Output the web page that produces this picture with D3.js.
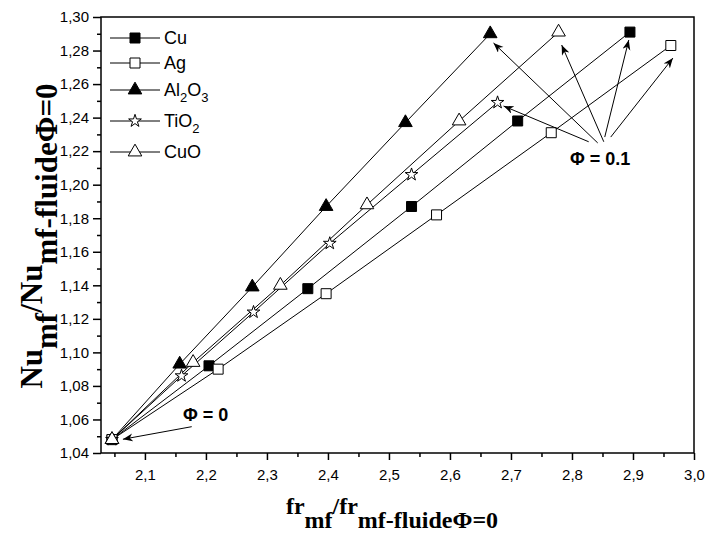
<!DOCTYPE html>
<html><head><meta charset="utf-8">
<script src="https://cdn.jsdelivr.net/npm/d3@7"></script>
<style>body{margin:0;background:#fff}svg{display:block}</style>
</head><body>
<svg id="c" width="707" height="534"></svg>
<script>
const seriesNames = ["Cu", "Ag", "Al2O3", "TiO2", "CuO"];
const cuX = [2.046, 2.205, 2.367, 2.537, 2.711, 2.895];
const cuY = [1.048, 1.092, 1.138, 1.187, 1.238, 1.291];
const agX = [2.046, 2.220, 2.397, 2.578, 2.766, 2.962];
const agY = [1.048, 1.090, 1.135, 1.182, 1.231, 1.283];
const alX = [2.046, 2.157, 2.276, 2.397, 2.527, 2.666];
const alY = [1.048, 1.093, 1.139, 1.187, 1.237, 1.290];
const tiX = [2.046, 2.160, 2.278, 2.403, 2.537, 2.678];
const tiY = [1.048, 1.086, 1.124, 1.165, 1.206, 1.249];
const cuoX = [2.046, 2.179, 2.322, 2.464, 2.615, 2.778];
const cuoY = [1.048, 1.094, 1.140, 1.188, 1.238, 1.291];
const xTicks = [2.1, 2.2, 2.3, 2.4, 2.5, 2.6, 2.7, 2.8, 2.9, 3.0];
const yTicks = [1.04, 1.06, 1.08, 1.10, 1.12, 1.14, 1.16, 1.18, 1.20, 1.22, 1.24, 1.26, 1.28, 1.30];
// annotation arrows (data units): [tailX, tailY, headX, headY]
const arrows0 = [[2.1767, 1.0557, 2.0639, 1.0482]];
const arrows01 = [
  [2.8274, 1.2256, 2.6879, 1.2469],
  [2.8422, 1.2249, 2.6714, 1.2845],
  [2.8521, 1.2256, 2.7831, 1.2833],
  [2.8537, 1.2284, 2.8931, 1.2863],
  [2.8635, 1.2284, 2.9654, 1.2755]
];

const svg = d3.select("#c");
const L = 101, R = 694, T = 17, B = 453;
const x = d3.scaleLinear().domain([2.028, 3.0]).range([L, R]);
const y = d3.scaleLinear().domain([1.04, 1.30]).range([B, T]);

const sans = "'Liberation Sans', Arial, sans-serif";
const serif = "'Liberation Serif', 'Times New Roman', serif";

svg.append("defs").append("marker")
  .attr("id", "ah").attr("markerUnits", "userSpaceOnUse")
  .attr("markerWidth", 12).attr("markerHeight", 10)
  .attr("refX", 10).attr("refY", 4).attr("orient", "auto")
  .append("path").attr("d", "M0,0 L10,4 L0,8 L3,4 Z").attr("fill", "#000");

// axes
const xAxis = d3.axisBottom(x).tickValues(xTicks).tickSize(7).tickPadding(9)
  .tickFormat(d => d3.format(".1f")(d).replace(".", ","));
const gx = svg.append("g").attr("transform", `translate(0,${B})`).call(xAxis);
const xMinor = d3.range(2.05, 3.0, 0.1);
const gxm = svg.append("g").attr("transform", `translate(0,${B})`)
  .call(d3.axisBottom(x).tickValues(xMinor).tickSize(4).tickFormat(""));

const yAxis = d3.axisLeft(y).tickValues(yTicks).tickSize(8).tickPadding(4)
  .tickFormat(d => d3.format(".2f")(d).replace(".", ","));
const gy = svg.append("g").attr("transform", `translate(${L},0)`).call(yAxis);
const yMinor = d3.range(1.05, 1.30, 0.02);
const gym = svg.append("g").attr("transform", `translate(${L},0)`)
  .call(d3.axisLeft(y).tickValues(yMinor).tickSize(4).tickFormat(""));

[gx, gxm, gy, gym].forEach(g => {
  g.select(".domain").remove();
  g.selectAll("line").attr("stroke", "#000").attr("stroke-width", 1.5);
  g.selectAll("text").attr("fill", "#000").style("font-family", sans).style("font-size", "15px");
});

svg.append("rect").attr("x", L).attr("y", T).attr("width", R - L).attr("height", B - T)
  .attr("fill", "none").attr("stroke", "#000").attr("stroke-width", 1.5);

// series
const data = [
  {name: "Cu", xs: cuX, ys: cuY, sym: d3.symbolSquare, size: 100, fill: "#000"},
  {name: "Ag", xs: agX, ys: agY, sym: d3.symbolSquare, size: 100, fill: "#fff"},
  {name: "Al2O3", xs: alX, ys: alY, sym: d3.symbolTriangle, size: 80, fill: "#000"},
  {name: "TiO2", xs: tiX, ys: tiY, sym: d3.symbolStar, size: 50, fill: "#fff"},
  {name: "CuO", xs: cuoX, ys: cuoY, sym: d3.symbolTriangle, size: 80, fill: "#fff"}
];
const line = d3.line().x(d => x(d[0])).y(d => y(d[1]));
data.forEach(s => {
  const pts = s.xs.map((v, i) => [v, s.ys[i]]);
  svg.append("path").attr("d", line(pts)).attr("fill", "none").attr("stroke", "#000").attr("stroke-width", 1);
});
data.forEach(s => {
  const pts = s.xs.map((v, i) => [v, s.ys[i]]);
  svg.append("g").selectAll("path").data(pts).join("path")
    .attr("transform", d => `translate(${x(d[0])},${y(d[1])})`)
    .attr("d", d3.symbol().type(s.sym).size(s.size))
    .attr("fill", s.fill).attr("stroke", "#000").attr("stroke-width", 1);
});

// annotations
arrows0.concat(arrows01).forEach(a => {
  svg.append("line").attr("x1", x(a[0])).attr("y1", y(a[1])).attr("x2", x(a[2])).attr("y2", y(a[3]))
    .attr("stroke", "#000").attr("stroke-width", 1).attr("marker-end", "url(#ah)");
});
svg.append("text").attr("x", x(2.1995)).attr("y", y(1.0593)).attr("text-anchor", "middle")
  .style("font-family", sans).style("font-weight", "bold").style("font-size", "18px").text("Φ = 0");
svg.append("text").attr("x", x(2.8463)).attr("y", y(1.2117)).attr("text-anchor", "middle")
  .style("font-family", sans).style("font-weight", "bold").style("font-size", "18px").text("Φ = 0.1");

// legend
const legY = [38, 63, 90, 121, 152];
const labels = [["Cu"], ["Ag"], ["Al", "2", "O", "3"], ["TiO", "2"], ["CuO"]];
data.forEach((s, i) => {
  const g = svg.append("g").attr("transform", `translate(0,${legY[i]})`);
  g.append("line").attr("x1", 110).attr("x2", 160).attr("y1", 0).attr("y2", 0).attr("stroke", "#000");
  g.append("path").attr("transform", "translate(135,0)").attr("d", d3.symbol().type(s.sym).size(s.size))
    .attr("fill", s.fill).attr("stroke", "#000");
  const t = g.append("text").attr("x", 164).attr("y", 6).style("font-family", sans).style("font-size", "18px");
  labels[i].forEach((p, k) => {
    const sub = k % 2 === 1;
    t.append("tspan").text(p).attr("dy", sub ? 6 : (k > 0 ? -6 : 0))
      .style("font-size", sub ? "13px" : "18px");
  });
});

// axis titles
const xt = svg.append("text").attr("x", 392).attr("y", 514).attr("text-anchor", "middle")
  .style("font-family", serif).style("font-weight", "bold").style("font-size", "24px");
xt.append("tspan").text("fr");
xt.append("tspan").text("mf").attr("dy", 14);
xt.append("tspan").text("/fr").attr("dy", -14);
xt.append("tspan").text("mf-fluideΦ=0").attr("dy", 14);

const yt = svg.append("text").attr("transform", "translate(42,236) rotate(-90)").attr("text-anchor", "middle")
  .style("font-family", serif).style("font-weight", "bold").style("font-size", "31px");
yt.append("tspan").text("Nu");
yt.append("tspan").text("mf").attr("dy", 15);
yt.append("tspan").text("/Nu").attr("dy", -15);
yt.append("tspan").text("mf-fluideΦ=0").attr("dy", 15);
</script>
</body></html>
